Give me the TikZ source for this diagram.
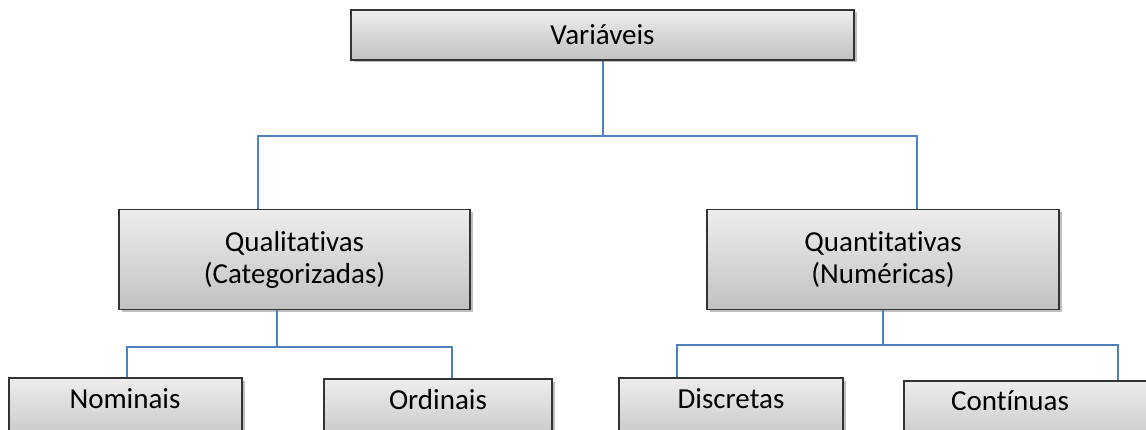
\documentclass[tikz,border=0pt]{standalone}
\usepackage{fontspec}
\setmainfont[Ligatures={NoCommon}]{Carlito}
\usetikzlibrary{shadows}
\definecolor{conncol}{HTML}{4F81BD}
\definecolor{boxedge}{HTML}{333333}
\begin{document}
\begin{tikzpicture}[x=1pt,y=-1pt,
  box/.style={draw=boxedge,line width=1.6pt,rectangle,inner sep=0pt,
    top color=white!93!black,bottom color=white!76!black,
    drop shadow={shadow xshift=2.5pt,shadow yshift=-2.5pt,fill=black!50,opacity=0.5},
    font=\fontsize{29}{32}\selectfont,align=center},
  lbl/.style={font=\fontsize{29}{32}\selectfont,inner sep=0pt},
  conn/.style={draw=conncol,line width=1.3pt}]
\useasboundingbox (0,0) rectangle (1146,430);
% top
\node[box,minimum width=503,minimum height=50] (var) at (602.5,35) {Variáveis};
% middle
\node[box,minimum width=351,minimum height=100] (quali) at (294.5,259.5) {Qualitativas\\(Categorizadas)};
\node[box,minimum width=352,minimum height=100] (quanti) at (883,259.5) {Quantitativas\\(Numéricas)};
% bottom boxes
\node[box,minimum width=233,minimum height=70] (nom) at (125.5,413) {};
\node[box,minimum width=228,minimum height=70] (ord) at (438,414) {};
\node[box,minimum width=224,minimum height=70] (dis) at (731,413) {};
\node[box,minimum width=250,minimum height=70] (con) at (1029,416) {};
\node[lbl] (tnom) at (125,399) {Nominais};
\node[lbl] (tord) at (438,400) {Ordinais};
\node[lbl] (tdis) at (731,399) {Discretas};
\node[lbl] (tcon) at (1010,401) {Contínuas};
% junctions
\coordinate (j1) at (603,136);
\coordinate (jl) at (258,136);
\coordinate (jr) at (917,136);
\coordinate (j2) at (277,347);
\coordinate (j2l) at (127,347);
\coordinate (j2r) at (452,347);
\coordinate (j3) at (883,345);
\coordinate (j3l) at (677,345);
\coordinate (j3r) at (1118,345);
% connectors
\draw[conn] (var.south -| j1) -- (j1);
\draw[conn] (quali.north -| jl) -- (jl) -- (jr) -- (quanti.north -| jr);
\draw[conn] (quali.south -| j2) -- (j2);
\draw[conn] (nom.north -| j2l) -- (j2l) -- (j2r) -- (ord.north -| j2r);
\draw[conn] (quanti.south -| j3) -- (j3);
\draw[conn] (dis.north -| j3l) -- (j3l) -- (j3r) -- (con.north -| j3r);
\end{tikzpicture}
\end{document}
